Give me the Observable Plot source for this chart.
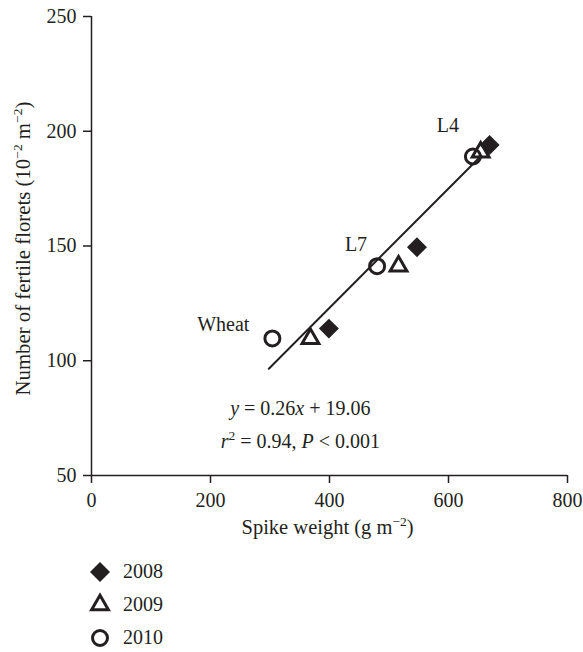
<!DOCTYPE html>
<html>
<head>
<meta charset="utf-8">
<script src="https://cdn.jsdelivr.net/npm/d3@7"></script>
<script src="https://cdn.jsdelivr.net/npm/@observablehq/plot@0.6"></script>
<style>
  html, body { margin: 0; padding: 0; background: #fff; }
  #chart { width: 583px; }
  .legend { font-family: "Liberation Serif", serif; font-size: 20px; color: #231f20; margin-top: 5px; }
  .legend .row { height: 33px; display: flex; align-items: center; }
  .legend svg { margin-left: 89px; margin-right: 12px; overflow: visible; }
</style>
</head>
<body>
<div id="chart"></div>
<script>
// ---- data ----
const years = ["2008", "2009", "2010"];
const genotypes = ["Wheat", "L7", "L4"];
const spike2008 = [399, 547, 669];
const florets2008 = [114, 149.5, 194];
const spike2009 = [368, 516, 654];
const florets2009 = [109.6, 141.2, 190.9];
const spike2010 = [304, 480, 641];
const florets2010 = [109.7, 141.2, 189];
const fitSlope = 0.26;
const fitIntercept = 19.06;
const fitRange = [298, 655];
const xTicks = [0, 200, 400, 600, 800];
const yTicks = [50, 100, 150, 200, 250];
const eqLines = ["y = 0.26x + 19.06", "r2 = 0.94, P < 0.001"];
const eqX = [351, 351];
const eqY = [79.2, 64.8];

const ink = "#231f20";
const font = "Liberation Serif";

const rows = (xs, ys, year) => xs.map((x, i) => ({x, y: ys[i], g: genotypes[i], year}));
const d2008 = rows(spike2008, florets2008, "2008");
const d2009 = rows(spike2009, florets2009, "2009");
const d2010 = rows(spike2010, florets2010, "2010");
const fit = fitRange.map(x => ({x, y: fitSlope * x + fitIntercept}));
const eq = eqLines.map((t, i) => ({t, x: eqX[i], y: eqY[i]}));

const labelDx = [-23, -10, -14];
const labelDy = [-14, -22, -31];

const plot = Plot.plot({
  width: 583,
  height: 550,
  marginLeft: 91,
  marginRight: 16,
  marginTop: 16,
  marginBottom: 75,
  style: {fontFamily: font, fontSize: "20px", color: ink, background: "#fff"},
  x: {domain: [0, 800], ticks: xTicks, tickSize: 8, tickPadding: 9, label: "Spike weight (g m-2)", labelAnchor: "center", labelOffset: 58, labelArrow: "none"},
  y: {domain: [50, 250], ticks: yTicks, tickSize: 8, tickPadding: 7, label: "Number of fertile florets", labelAnchor: "center", labelOffset: 76, labelArrow: "none"},
  marks: [
    Plot.ruleX([0], {y1: 50, y2: 250, stroke: ink, strokeWidth: 1.5}),
    Plot.ruleY([50], {x1: 0, x2: 800, stroke: ink, strokeWidth: 1.5}),
    Plot.line(fit, {x: "x", y: "y", stroke: ink, strokeWidth: 2}),
    Plot.dot(d2008, {x: "x", y: "y", symbol: "diamond2", r: 9, fill: ink, stroke: "none"}),
    Plot.dot(d2009, {x: "x", y: "y", symbol: "triangle2", r: 8, fill: "none", stroke: ink, strokeWidth: 3}),
    Plot.dot(d2010, {x: "x", y: "y", symbol: "circle", r: 7.5, fill: "none", stroke: ink, strokeWidth: 3}),
    ...d2010.map((d, i) => Plot.text([d], {x: "x", y: "y", text: "g", textAnchor: "end", dx: labelDx[i], dy: labelDy[i], fill: ink, fontSize: 20})),
    Plot.text(eq, {x: "x", y: "y", text: "t", fill: ink, fontSize: 20, className: "eqtext"})
  ]
});

const sup = s => `<tspan dy="-8" font-size="13.5">${s}</tspan>`;
const svg = d3.select(plot);
svg.selectAll(".eqtext text").each(function(d, i) {
  const t = d3.select(this);
  if (i === 0) t.html(`<tspan font-style="italic">y</tspan> = 0.26<tspan font-style="italic">x</tspan> + 19.06`);
  else t.html(`<tspan font-style="italic">r</tspan>${sup("2")}<tspan dy="8"> = 0.94, </tspan><tspan font-style="italic">P</tspan> &lt; 0.001`);
});
// y label: start-anchored at the bottom so the superscripts do not shift the anchor
svg.selectAll('g[aria-label="y-axis label"] text')
  .attr("font-size", 20.8)
  .attr("text-anchor", "start")
  .attr("transform", "translate(91,395) rotate(-90)")
  .html(`Number of fertile florets (10${sup("\u22122")}<tspan dy="8"> m</tspan>${sup("\u22122")}<tspan dy="8">)</tspan>`);
svg.selectAll('g[aria-label="x-axis label"] text')
  .attr("text-anchor", "start")
  .attr("x", -88)
  .attr("font-size", 20.5)
  .html(`Spike weight (g m${sup("\u22122")}<tspan dy="8">)</tspan>`);
svg.selectAll('g[aria-label="x-axis tick"], g[aria-label="y-axis tick"]').attr("stroke-width", 1.5);

document.getElementById("chart").appendChild(plot);

// ---- legend ----
const legend = d3.select("body").append("div").attr("class", "legend");
const legendSymbols = {"2008": d3.symbolDiamond2, "2009": d3.symbolTriangle2, "2010": d3.symbolCircle};
const legendR = {"2008": 9, "2009": 8, "2010": 7.5};
years.forEach(y => {
  const row = legend.append("div").attr("class", "row");
  const s = row.append("svg").attr("width", 22).attr("height", 22).attr("viewBox", "-11 -11 22 22");
  const p = s.append("path").attr("d", d3.symbol(legendSymbols[y], Math.PI * legendR[y] ** 2)());
  if (y === "2008") p.attr("fill", ink);
  else p.attr("fill", "none").attr("stroke", ink).attr("stroke-width", 3);
  row.append("span").text(y);
});
</script>
</body>
</html>
